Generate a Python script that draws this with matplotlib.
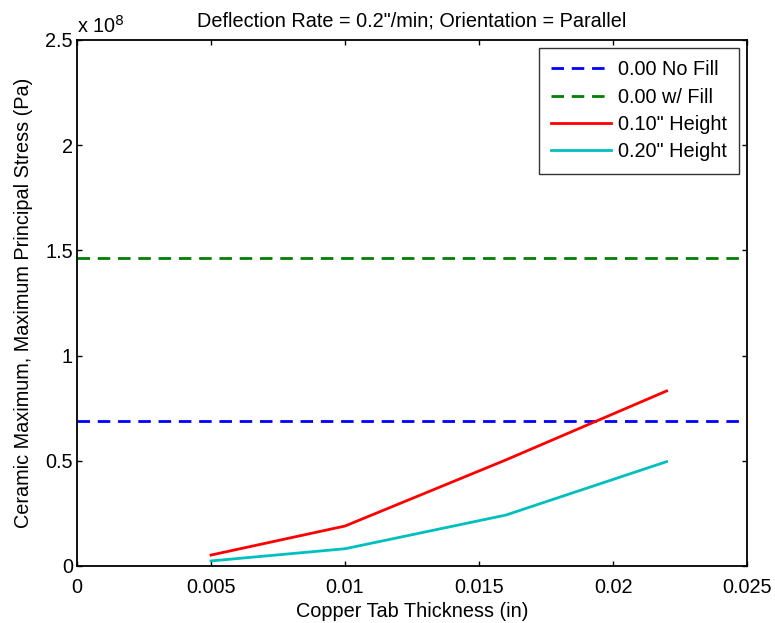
import matplotlib
matplotlib.use("Agg")
import matplotlib.pyplot as plt

plt.rcParams['font.family'] = ['Liberation Sans', 'DejaVu Sans']

thickness = [0.005, 0.010, 0.016, 0.022]
h010 = [0.052, 0.19, 0.504, 0.832]   # x 1e8 Pa
h020 = [0.024, 0.082, 0.242, 0.496]
no_fill = 0.688
w_fill = 1.462

FS = 14.3

fig = plt.figure(figsize=(7.75, 6.23), dpi=100)
ax = fig.add_axes([0.0994, 0.0915, 0.8645, 0.8443])

dash = (0, (4.5, 2.8))
ax.axhline(no_fill, color='#0000ff', ls=dash, lw=2, label='0.00 No Fill')
ax.axhline(w_fill, color='#007f00', ls=dash, lw=2, label='0.00 w/ Fill')
ax.plot(thickness, h010, color='#ff0000', lw=2, label='0.10" Height')
ax.plot(thickness, h020, color='#00bfbf', lw=2, label='0.20" Height')

ax.set_xlim(0, 0.025)
ax.set_ylim(0, 2.5)
ax.set_xticks([0, 0.005, 0.01, 0.015, 0.02, 0.025])
ax.set_xticklabels(['0', '0.005', '0.01', '0.015', '0.02', '0.025'])
ax.set_yticks([0, 0.5, 1, 1.5, 2, 2.5])
ax.set_yticklabels(['0', '0.5', '1', '1.5', '2', '2.5'])
ax.tick_params(direction='in', top=True, right=True, labelsize=FS, length=3.5, width=1)
ax.tick_params(axis='x', pad=8.5)
ax.tick_params(axis='y', pad=3)
for s in ax.spines.values():
    s.set_linewidth(1.3)

ax.set_xlabel('Copper Tab Thickness (in)', fontsize=FS, labelpad=4)
ax.set_ylabel('Ceramic Maximum, Maximum Principal Stress (Pa)', fontsize=FS, labelpad=9)
ax.set_title('Deflection Rate = 0.2"/min; Orientation = Parallel', fontsize=FS, pad=10)
ax.text(0.0, 1.006, r'x 10$^{8}$', transform=ax.transAxes, fontsize=FS, ha='left', va='bottom')

leg = ax.legend(loc='upper right', fontsize=FS, frameon=True, fancybox=False,
                edgecolor='black', borderaxespad=0.4, handlelength=3.0,
                handletextpad=0.35, labelspacing=0.42, borderpad=0.62)
leg.get_frame().set_linewidth(1.0)

fig.savefig('out.png', dpi=100)
